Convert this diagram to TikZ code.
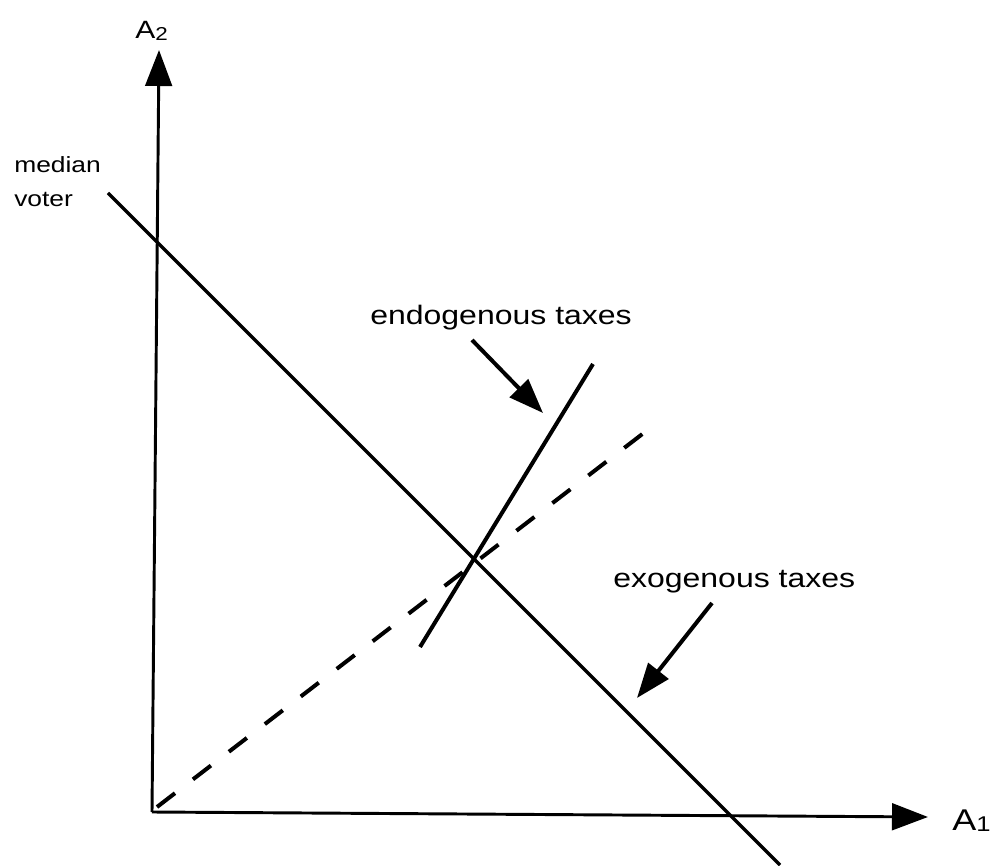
\documentclass[tikz,border=0pt]{standalone}
\usepackage{fontspec}
\setmainfont{Liberation Sans}
\usetikzlibrary{arrows.meta}
\newcommand\hstretch[1]{\scalebox{1.2}[1]{#1}}
\begin{document}
\begin{tikzpicture}[x=0.75pt,y=-0.75pt,
  axisline/.style={line width=2.2pt,-{Triangle[length=27pt,width=20pt]}},
  medline/.style={line width=2.5pt},
  endline/.style={line width=3pt},
  dashline/.style={line width=3pt,dash pattern=on 17pt off 17pt},
  pointer/.style={line width=3pt,-{Triangle[length=26pt,width=19pt]}},
  lbl/.style={inner sep=0pt,anchor=base west},
  bigfont/.style={font=\fontsize{22.5pt}{27pt}\selectfont},
  midfont/.style={font=\fontsize{18.75pt}{22pt}\selectfont},
  txtfont/.style={font=\fontsize{20pt}{24pt}\selectfont},
  smallfont/.style={font=\fontsize{16.5pt}{24pt}\selectfont}]
\useasboundingbox (0,0) rectangle (997,866);
% coordinates
\coordinate (O) at (152,812);
\coordinate (Ytip) at (159,50);
\coordinate (Xtip) at (928,817);
\coordinate (m1) at (108,193);
\coordinate (m2) at (780,865);
\coordinate (e1) at (420,647);
\coordinate (e2) at (593,364);
\coordinate (d1) at (157,807);
\coordinate (d2) at (658,422);
\coordinate (ea1) at (472,340);
\coordinate (ea2) at (543,413);
\coordinate (xa1) at (712,603);
\coordinate (xa2) at (637,698);
% axes
\draw[axisline] (O) -- (Ytip);
\draw[axisline] (O) -- (Xtip);
% lines
\draw[medline] (m1) -- (m2);
\draw[endline] (e1) -- (e2);
\draw[dashline] (d1) -- (d2);
% pointers
\draw[pointer] (ea1) -- (ea2);
\draw[pointer] (xa1) -- (xa2);
% labels
\node[lbl,midfont] (A2) at (135,39) {\hstretch{A\raisebox{-1pt}{\fontsize{14pt}{16pt}\selectfont 2}}};
\node[lbl,bigfont] (A1) at (952,830) {\hstretch{A\raisebox{-1pt}{\fontsize{16pt}{18pt}\selectfont 1}}};
\node[lbl,smallfont] (med) at (14,173) {\hstretch{median}};
\node[lbl,smallfont] (vot) at (14,207) {\hstretch{voter}};
\node[lbl,txtfont] (endo) at (370,325) {\hstretch{endogenous taxes}};
\node[lbl,txtfont] (exo) at (613,587) {\hstretch{exogenous taxes}};
\end{tikzpicture}
\end{document}
